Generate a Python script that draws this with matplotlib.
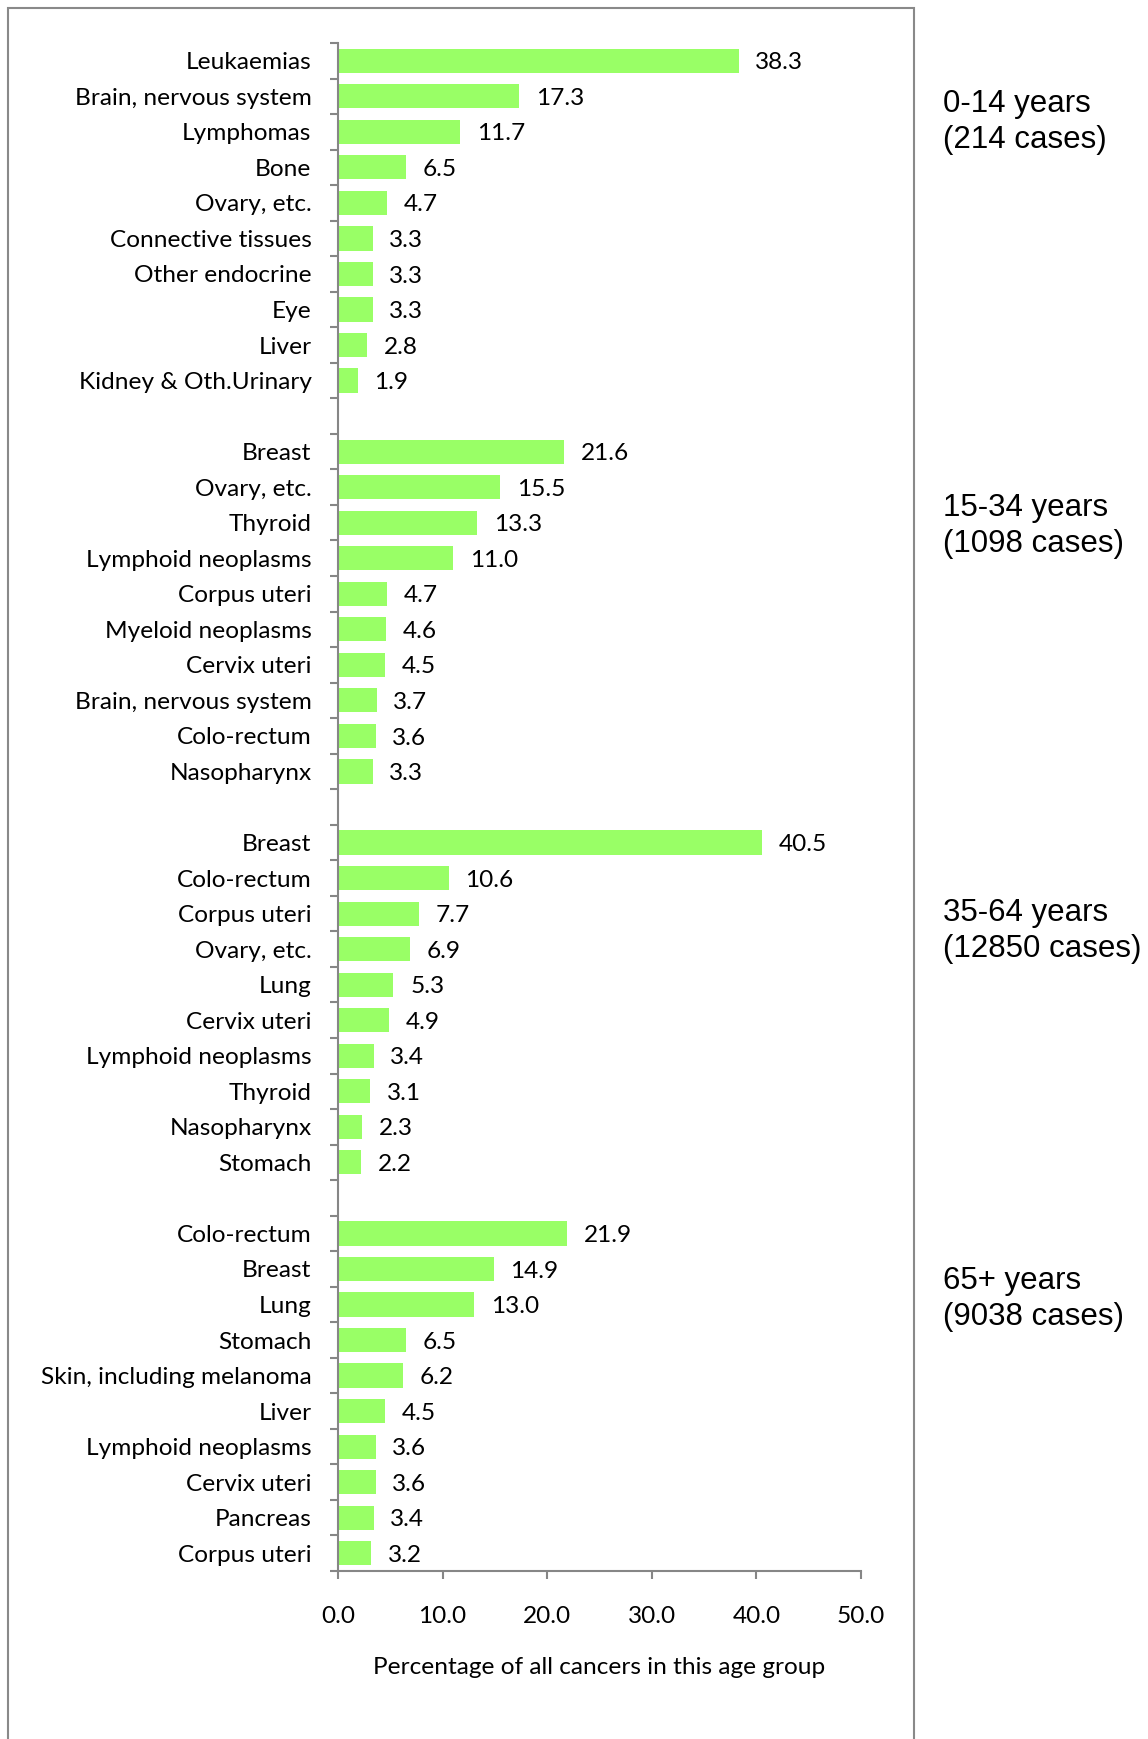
import matplotlib
matplotlib.use("Agg")
import matplotlib.pyplot as plt
from matplotlib.patches import Rectangle
import numpy as np

# ---- data ----
group_titles = ["0-14 years\n(214 cases)", "15-34 years\n(1098 cases)",
                "35-64 years\n(12850 cases)", "65+ years\n(9038 cases)"]

g1_labels = ["Leukaemias", "Brain, nervous system", "Lymphomas", "Bone", "Ovary, etc.",
             "Connective tissues", "Other endocrine", "Eye", "Liver", "Kidney & Oth.Urinary"]
g1_values = [38.3, 17.3, 11.7, 6.5, 4.7, 3.3, 3.3, 3.3, 2.8, 1.9]

g2_labels = ["Breast", "Ovary, etc.", "Thyroid", "Lymphoid neoplasms", "Corpus uteri",
             "Myeloid neoplasms", "Cervix uteri", "Brain, nervous system", "Colo-rectum", "Nasopharynx"]
g2_values = [21.6, 15.5, 13.3, 11.0, 4.7, 4.6, 4.5, 3.7, 3.6, 3.3]

g3_labels = ["Breast", "Colo-rectum", "Corpus uteri", "Ovary, etc.", "Lung",
             "Cervix uteri", "Lymphoid neoplasms", "Thyroid", "Nasopharynx", "Stomach"]
g3_values = [40.5, 10.6, 7.7, 6.9, 5.3, 4.9, 3.4, 3.1, 2.3, 2.2]

g4_labels = ["Colo-rectum", "Breast", "Lung", "Stomach", "Skin, including melanoma",
             "Liver", "Lymphoid neoplasms", "Cervix uteri", "Pancreas", "Corpus uteri"]
g4_values = [21.9, 14.9, 13.0, 6.5, 6.2, 4.5, 3.6, 3.6, 3.4, 3.2]

x_ticks = [0, 10, 20, 30, 40, 50]
x_label = "Percentage of all cancers in this age group"

# ---- build slots (blank slot between groups) ----
groups = [(g1_labels, g1_values), (g2_labels, g2_values),
          (g3_labels, g3_values), (g4_labels, g4_values)]
labels, values, positions = [], [], []
pos = 0
for gi, (lab, val) in enumerate(groups):
    for l, v in zip(lab, val):
        labels.append(l)
        values.append(v)
        positions.append(pos)
        pos += 1
    if gi < len(groups) - 1:
        pos += 1
n_slots = pos

W, H = 1148, 1739
fig = plt.figure(figsize=(W / 100, H / 100), dpi=100)
ax = fig.add_axes([338 / W, 1 - 1571 / H, 523 / W, (1571 - 43) / H])

FONT = "Lato"
FS = 17.6
GRAY = "#868686"
GREEN = "#99FF66"

ax.barh(positions, values, height=0.68, color=GREEN, edgecolor="none")
for p, v in zip(positions, values):
    ax.annotate(f"{v:.1f}", xy=(v, p), xytext=(12, -1.5), textcoords="offset points",
                ha="left", va="center", fontsize=FS, family=FONT, color="black")

ax.set_xlim(0, 50)
ax.set_ylim(n_slots - 0.5, -0.5)

# major y ticks at slot boundaries (marks), minor at centres (labels)
ax.set_yticks(np.arange(-0.5, n_slots, 1.0))
ax.set_yticklabels([])
ax.set_yticks(positions, minor=True)
ax.set_yticklabels(labels, minor=True, fontsize=FS, family=FONT)
ax.tick_params(axis="y", which="major", direction="out", length=6, width=1.5, color=GRAY)
ax.tick_params(axis="y", which="minor", length=0, pad=19)

ax.set_xticks(x_ticks)
ax.set_xticklabels([f"{t:.1f}" for t in x_ticks], fontsize=FS, family=FONT)
ax.tick_params(axis="x", direction="out", length=6, width=1.5, color=GRAY, pad=19)

for s in ["top", "right"]:
    ax.spines[s].set_visible(False)
for s in ["left", "bottom"]:
    ax.spines[s].set_color(GRAY)
    ax.spines[s].set_linewidth(1.5)

ax.set_xlabel(x_label, fontsize=FS, family=FONT)
ax.xaxis.set_label_coords(0.5, -97 / 1528)
ax.xaxis.label.set_va("center")

# group titles on the right
title_y = [122, 526, 931, 1299]
for t, y in zip(group_titles, title_y):
    fig.text(943 / W, 1 - y / H, t, ha="left", va="center", fontsize=22.5,
             family="Liberation Sans", linespacing=1.27)

# outer chart border
fig.patches.append(Rectangle((8 / W, -0.02), (914 - 8) / W, 1 - 8 / H + 0.02,
                             transform=fig.transFigure, fill=False,
                             edgecolor="#898989", linewidth=1.5))

fig.savefig("out.png", dpi=100)
